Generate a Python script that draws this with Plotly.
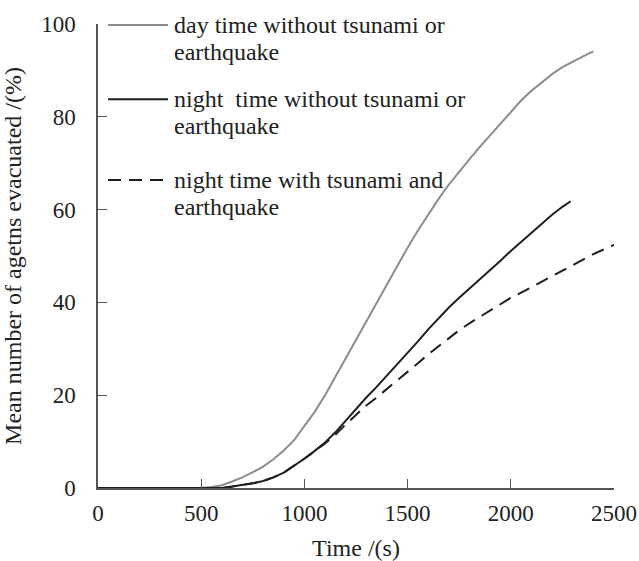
import plotly.graph_objects as go

# ---- data ----
t_day = [0, 500, 550, 600, 650, 700, 750, 800, 850, 900, 950, 1000, 1050, 1100, 1150, 1200,
         1250, 1300, 1350, 1400, 1450, 1500, 1550, 1600, 1650, 1700, 1750, 1800, 1850, 1900,
         1950, 2000, 2050, 2100, 2150, 2200, 2250, 2300, 2350, 2400]
v_day = [0, 0, 0.2, 0.6, 1.4, 2.3, 3.4, 4.6, 6.2, 8.1, 10.3, 13.3, 16.4, 20.0, 24.0, 28.0,
         32.0, 36.0, 40.0, 44.0, 48.0, 51.8, 55.5, 59.0, 62.3, 65.4, 68.2, 70.9, 73.5, 76.0,
         78.6, 81.1, 83.5, 85.6, 87.5, 89.2, 90.7, 91.9, 93.0, 94.1]

t_night = [0, 600, 650, 700, 750, 800, 850, 900, 950, 1000, 1050, 1100, 1150, 1200, 1250,
           1300, 1350, 1400, 1450, 1500, 1550, 1600, 1650, 1700, 1750, 1800, 1850, 1900,
           1950, 2000, 2050, 2100, 2150, 2200, 2250, 2290]
v_night = [0, 0, 0.3, 0.6, 1.0, 1.5, 2.3, 3.3, 4.8, 6.3, 8.0, 9.8, 12.0, 14.5, 17.1,
           19.5, 21.8, 24.2, 26.6, 29.0, 31.6, 34.2, 36.6, 38.9, 41.0, 43.0, 44.9, 46.8,
           49.0, 51.1, 53.1, 55.1, 57.1, 58.9, 60.6, 61.8]

t_quake = [0, 600, 650, 700, 750, 800, 850, 900, 950, 1000, 1050, 1100, 1150, 1200, 1250,
           1300, 1350, 1400, 1450, 1500, 1550, 1600, 1650, 1700, 1750, 1800, 1850, 1900,
           1950, 2000, 2050, 2100, 2150, 2200, 2250, 2300, 2350, 2400, 2450, 2500]
v_quake = [0, 0, 0.3, 0.6, 1.0, 1.5, 2.3, 3.3, 4.8, 6.3, 7.9, 9.6, 11.5, 13.7, 15.8,
           17.8, 19.5, 21.3, 23.2, 25.0, 26.9, 28.8, 30.6, 32.3, 34.0, 35.5, 36.9, 38.3,
           39.7, 41.0, 42.1, 43.3, 44.5, 45.7, 46.9, 48.1, 49.3, 50.4, 51.4, 52.4]

names = ["day time without tsunami or", "earthquake",
         "night  time without tsunami or", "earthquake",
         "night time with tsunami and", "earthquake"]

x_ticks = [0, 500, 1000, 1500, 2000, 2500]
y_ticks = [0, 20, 40, 60, 80, 100]

GRAY = "#8c8c8c"
BLACK = "#1e1e1e"
AXIS = "#555555"
TXT = "#222222"
FONT = "Liberation Serif"
DASH = "13px,8px"

fig = go.Figure()
fig.add_trace(go.Scatter(x=t_day, y=v_day, mode="lines", line=dict(color=GRAY, width=2),
                         name="day time without tsunami or earthquake"))
fig.add_trace(go.Scatter(x=t_night, y=v_night, mode="lines", line=dict(color=BLACK, width=2),
                         name="night time without tsunami or earthquake"))
fig.add_trace(go.Scatter(x=t_quake, y=v_quake, mode="lines",
                         line=dict(color=BLACK, width=2, dash=DASH),
                         name="night time with tsunami and earthquake"))

# manual legend
leg_rows = [(0.998, 0.940, GRAY, "solid"), (0.838, 0.780, BLACK, "solid"),
            (0.664, 0.606, BLACK, DASH)]
shapes = []
annotations = []
for i, (y1, y2, col, dsh) in enumerate(leg_rows):
    shapes.append(dict(type="line", xref="paper", yref="paper", x0=0.0194, x1=0.1357,
                       y0=y1, y1=y1, line=dict(color=col, width=2, dash=dsh)))
    for j, yy in enumerate((y1, y2)):
        annotations.append(dict(xref="paper", yref="paper", x=0.143, y=yy, xanchor="left",
                                yanchor="middle", showarrow=False, text=names[2 * i + j],
                                font=dict(family=FONT, size=24, color=TXT)))

fig.update_layout(
    width=639, height=561,
    margin=dict(l=98, r=25, t=24, b=73),
    paper_bgcolor="white", plot_bgcolor="white",
    showlegend=False,
    font=dict(family=FONT, size=23, color=TXT),
    shapes=shapes, annotations=annotations,
)
fig.update_xaxes(range=[0, 2500], tickvals=x_ticks, ticks="inside", ticklen=9, tickwidth=1.3,
                 tickcolor=AXIS, showline=True, linecolor=AXIS, linewidth=1.5, showgrid=False,
                 zeroline=False, ticklabelstandoff=4, automargin=False,
                 title=dict(text="Time /(s)", font=dict(size=24), standoff=14))
fig.update_yaxes(range=[0, 100], tickvals=y_ticks, ticks="inside", ticklen=9, tickwidth=1.3,
                 tickcolor=AXIS, showline=True, linecolor=AXIS, linewidth=1.5, showgrid=False,
                 zeroline=False, ticklabelstandoff=16, automargin=False,
                 title=dict(text="Mean number of agetns evacuated /(%)", font=dict(size=24),
                            standoff=14))

fig.write_html("out.html")
